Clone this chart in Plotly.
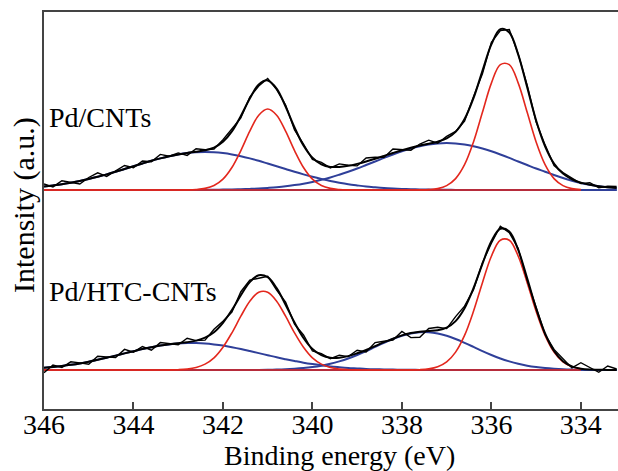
import numpy as np
import plotly.graph_objects as go

# Binding energy grid (eV)
energy = [346.0, 345.8, 345.6, 345.4, 345.2, 345.0, 344.8, 344.6, 344.4, 344.2,
          344.0, 343.8, 343.6, 343.4, 343.2, 343.0, 342.8, 342.6, 342.4, 342.2,
          342.0, 341.8, 341.6, 341.4, 341.2, 341.0, 340.8, 340.6, 340.4, 340.2,
          340.0, 339.8, 339.6, 339.4, 339.2, 339.0, 338.8, 338.6, 338.4, 338.2,
          338.0, 337.8, 337.6, 337.4, 337.2, 337.0, 336.8, 336.6, 336.4, 336.2,
          336.0, 335.8, 335.6, 335.4, 335.2, 335.0, 334.8, 334.6, 334.4, 334.2,
          334.0, 333.8, 333.6, 333.4, 333.2]

# ---- Pd/CNTs fitted components (a.u., relative to baseline) ----
cnt_pd0_32 = [0, 0, 0, 0, 0, 0, 0, 0, 0, 0,
              0, 0, 0, 0, 0, 0, 0.1, 0.5, 1.6, 4.5,
              10.9, 22.5, 39.4, 58.8, 74.8, 81.0, 74.8, 58.8, 39.4, 22.5,
              10.9, 4.5, 1.6, 0.5, 0.1, 0, 0, 0, 0, 0,
              0, 0, 0, 0, 0, 0, 0, 0, 0, 0,
              0, 0, 0, 0, 0, 0, 0, 0, 0, 0,
              0, 0, 0, 0, 0]
cnt_pd0_52 = [0, 0, 0, 0, 0, 0, 0, 0, 0, 0,
              0, 0, 0, 0, 0, 0, 0, 0, 0, 0,
              0, 0, 0, 0, 0, 0, 0, 0, 0, 0,
              0, 0, 0, 0, 0, 0, 0, 0, 0, 0,
              0, 0, 0.1, 0.4, 1.4, 4.4, 11.4, 25.3, 48.0, 77.7,
              106.9, 125.4, 125.4, 106.9, 77.7, 48.0, 25.3, 11.4, 4.4, 1.4,
              0.4, 0.1, 0, 0, 0]
cnt_pd2_32 = [3.5, 4.6, 5.8, 7.3, 9.0, 11.0, 13.2, 15.6, 18.2, 21.0,
              23.8, 26.5, 29.2, 31.6, 33.8, 35.6, 36.9, 37.7, 38.0, 37.7,
              36.9, 35.6, 33.8, 31.6, 29.2, 26.5, 23.8, 21.0, 18.2, 15.6,
              13.2, 11.0, 9.0, 7.3, 5.8, 4.6, 3.5, 2.7, 2.0, 1.5,
              1.1, 0.8, 0.6, 0.4, 0.3, 0.2, 0.1, 0.1, 0, 0,
              0, 0, 0, 0, 0, 0, 0, 0, 0, 0,
              0, 0, 0, 0, 0]
cnt_pd2_52 = [0, 0, 0, 0, 0, 0, 0, 0, 0, 0,
              0, 0, 0, 0, 0, 0, 0.1, 0.1, 0.2, 0.2,
              0.4, 0.5, 0.8, 1.1, 1.5, 2.1, 2.8, 3.7, 4.9, 6.3,
              8.1, 10.2, 12.5, 15.3, 18.3, 21.5, 25.0, 28.5, 32.1, 35.5,
              38.7, 41.5, 43.8, 45.5, 46.6, 47.0, 46.6, 45.5, 43.8, 41.5,
              38.7, 35.5, 32.1, 28.5, 25.0, 21.5, 18.3, 15.0, 12.0, 9.3,
              7.0, 5.2, 3.8, 2.8, 2.1]
cnt_resid = [2.5, -1.5, 3.5, 0.5, -3.0, 1.5, 4.0, -2.0, 1.0, 3.5,
             -1.5, 2.5, -1.0, 4.0, 0.0, 1.5, -2.5, 3.0, 0.5, -1.5,
             2.0, 2.5, -2.0, 1.5, -1.5, 2.0, -1.0, 1.5, -2.5, 1.5,
             -1.5, 2.0, -1.0, 3.0, 0.5, -2.0, 3.5, 1.5, -1.5, 4.0,
             0.5, -2.5, 1.5, 3.5, -1.5, 2.0, 0.5, -2.0, 1.5, -3.0,
             2.0, -1.5, 3.0, 0.5, 2.0, -1.5, 1.5, -2.0, 1.0, 1.5,
             -1.0, 2.0, -1.5, 1.0, 1.5]

# ---- Pd/HTC-CNTs fitted components ----
htc_pd0_32 = [0, 0, 0, 0, 0, 0, 0, 0, 0, 0,
              0, 0, 0, 0, 0.1, 0.3, 0.9, 2.5, 5.9, 12.2,
              22.8, 37.2, 53.8, 68.8, 77.8, 77.8, 68.8, 53.8, 37.2, 22.8,
              12.2, 5.9, 2.5, 0.9, 0.3, 0.1, 0, 0, 0, 0,
              0, 0, 0, 0, 0, 0, 0, 0, 0, 0,
              0, 0, 0, 0, 0, 0, 0, 0, 0, 0,
              0, 0, 0, 0, 0]
htc_pd0_52 = [0, 0, 0, 0, 0, 0, 0, 0, 0, 0,
              0, 0, 0, 0, 0, 0, 0, 0, 0, 0,
              0, 0, 0, 0, 0, 0, 0, 0, 0, 0,
              0, 0, 0, 0, 0, 0, 0, 0, 0, 0,
              0, 0.1, 0.3, 1.1, 3.2, 8.1, 17.9, 34.6, 58.7, 87.3,
              113.8, 129.8, 129.8, 113.8, 87.3, 58.7, 34.6, 17.9, 8.1, 3.2,
              1.1, 0.3, 0.1, 0, 0]
htc_pd2_32 = [2.2, 3.0, 4.0, 5.2, 6.6, 8.3, 10.2, 12.2, 14.4, 16.6,
              18.8, 21.0, 22.8, 24.4, 25.6, 26.5, 26.9, 26.9, 26.5, 25.6,
              24.4, 22.8, 21.0, 19.0, 16.9, 14.8, 12.7, 10.8, 9.0, 7.3,
              5.9, 4.7, 3.6, 2.8, 2.1, 1.6, 1.1, 0.8, 0.6, 0.4,
              0.3, 0.2, 0.1, 0.1, 0, 0, 0, 0, 0, 0,
              0, 0, 0, 0, 0, 0, 0, 0, 0, 0,
              0, 0, 0, 0, 0]
htc_pd2_52 = [0, 0, 0, 0, 0, 0, 0, 0, 0, 0,
              0, 0, 0, 0, 0, 0, 0, 0, 0, 0,
              0, 0, 0, 0.1, 0.1, 0.2, 0.4, 0.7, 1.2, 1.9,
              2.9, 4.3, 6.2, 8.6, 11.5, 15.0, 18.9, 23.1, 27.2, 31.0,
              34.3, 36.6, 37.8, 37.8, 36.6, 34.3, 31.0, 27.2, 23.1, 18.9,
              15.0, 11.5, 8.6, 6.2, 4.3, 2.9, 1.9, 1.2, 0.7, 0.4,
              0.2, 0.1, 0.1, 0, 0]
htc_resid = [-5.0, 2.0, -1.5, 3.0, 0.5, -2.5, 3.5, 1.0, -2.0, 4.0,
             -1.0, 2.5, -3.0, 3.0, 1.0, -1.5, 4.0, 0.0, -2.5, 3.0,
             1.5, -2.0, 3.5, 2.0, -3.0, 1.0, -2.0, 2.5, -1.5, 3.0,
             -2.0, 1.5, -1.0, 2.5, -0.5, 3.0, -2.0, 3.5, 1.0, -1.5,
             4.0, -4.5, -5.5, 2.5, 3.0, -1.0, 4.5, 2.0, -1.5, 1.0,
             -2.0, 2.5, -1.0, 1.5, -2.0, 2.0, -1.0, 1.5, 3.0, -1.5,
             6.0, 2.5, -2.5, 4.0, 1.0]

baseline = [0.0] * len(energy)

# vertical stacking offsets of the two spectra
panel_offsets = {"Pd/CNTs": 219.0, "Pd/HTC-CNTs": 39.0}
RED_DRAW_MIN = 334.0   # red fit components drawn down to this energy

RED = "#e3271d"
BLUE = "#2f3f99"
FONT = "Liberation Serif"

panels = [
    ("Pd/CNTs", cnt_pd0_32, cnt_pd0_52, cnt_pd2_32, cnt_pd2_52, cnt_resid),
    ("Pd/HTC-CNTs", htc_pd0_32, htc_pd0_52, htc_pd2_32, htc_pd2_52, htc_resid),
]

E = np.array(energy)
red_mask = E >= RED_DRAW_MIN

fig = go.Figure()
for name, r1, r2, b1, b2, res in panels:
    off = panel_offsets[name]
    r1, r2, b1, b2, res = map(np.array, (r1, r2, b1, b2, res))
    env = r1 + r2 + b1 + b2
    raw = env + res
    fig.add_trace(go.Scatter(x=E, y=np.array(baseline) + off, mode="lines",
                             line=dict(color=BLUE, width=2), showlegend=False))
    for comp in (b1, b2):
        fig.add_trace(go.Scatter(x=E, y=comp + off, mode="lines",
                                 line=dict(color=BLUE, width=2, shape="spline"),
                                 showlegend=False))
    for comp in (r1, r2):
        fig.add_trace(go.Scatter(x=E[red_mask], y=comp[red_mask] + off, mode="lines",
                                 line=dict(color=RED, width=1.6, shape="spline"),
                                 showlegend=False))
    fig.add_trace(go.Scatter(x=E, y=raw + off, mode="lines",
                             line=dict(color="black", width=1.4),
                             showlegend=False))
    fig.add_trace(go.Scatter(x=E, y=env + off, mode="lines",
                             line=dict(color="black", width=2, shape="spline"),
                             showlegend=False))

AX = "#444444"
fig.update_layout(
    width=618, height=471,
    margin=dict(l=44, r=0, t=12, b=62),
    paper_bgcolor="white", plot_bgcolor="white",
    xaxis=dict(range=[346, 333.17], tickvals=[346, 344, 342, 340, 338, 336, 334],
               ticks="inside", ticklen=7, tickwidth=1.5, tickcolor=AX,
               ticklabelstandoff=-10,
               showline=True, linecolor=AX, linewidth=1.5, mirror=True,
               showgrid=False, zeroline=False,
               tickfont=dict(family=FONT, size=28, color="black")),
    yaxis=dict(range=[0, 397], showline=True, linecolor=AX, linewidth=1.5,
               showticklabels=False, ticks="", showgrid=False, zeroline=False),
    annotations=[
        dict(text="Pd/CNTs", xref="paper", yref="paper", x=0.005, y=0.735,
             xanchor="left", yanchor="middle", showarrow=False,
             font=dict(family=FONT, size=28, color="black")),
        dict(text="Pd/HTC-CNTs", xref="paper", yref="paper", x=0.005, y=0.297,
             xanchor="left", yanchor="middle", showarrow=False,
             font=dict(family=FONT, size=28, color="black")),
        dict(text="Binding energy (eV)", xref="paper", yref="paper", x=0.514, y=-0.117,
             xanchor="center", yanchor="middle", showarrow=False,
             font=dict(family=FONT, size=28, color="black")),
        dict(text="Intensity (a.u.)", xref="paper", yref="paper", x=-0.0348, y=0.514,
             xanchor="center", yanchor="middle", showarrow=False, textangle=-90,
             font=dict(family=FONT, size=30, color="black")),
    ],
)

fig.write_html("out.html")
